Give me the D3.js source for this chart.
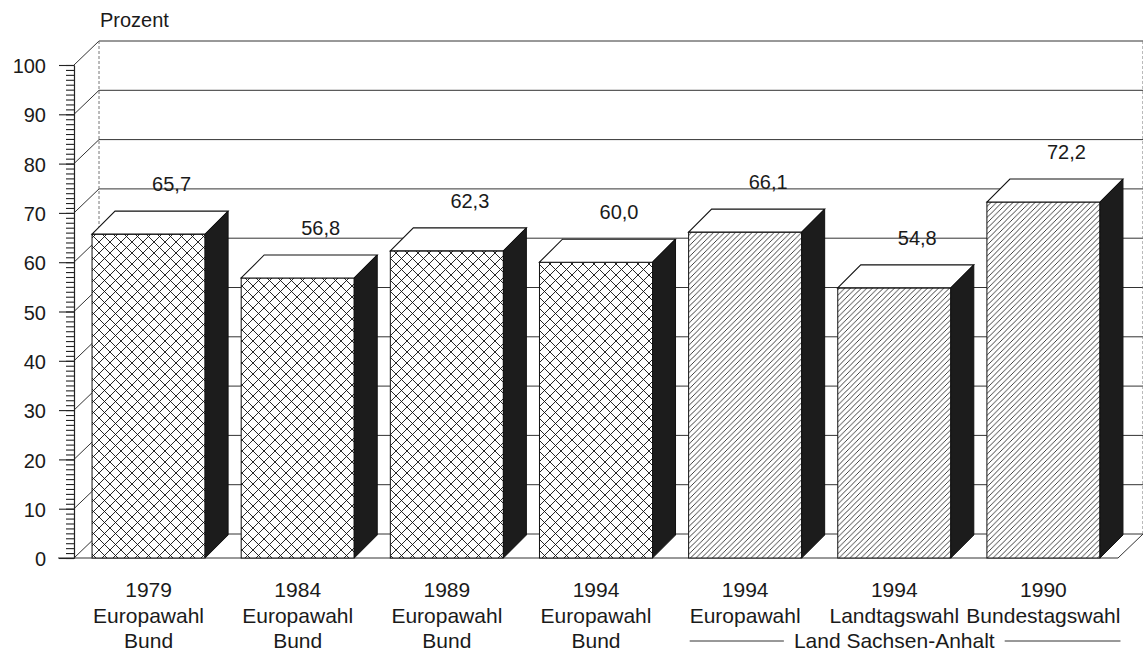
<!DOCTYPE html>
<html lang="de">
<head>
<meta charset="UTF-8">
<title>Wahlbeteiligung</title>
<script src="https://cdn.jsdelivr.net/npm/d3@7"></script>
<style>
    body { margin: 0; background: #fff; }
    svg text { font-family: "Liberation Sans", Arial, sans-serif; fill: #1a1a1a; }
    .axis path, .axis line { fill: none; stroke: #222; stroke-width: 1.1; }
    .axis text { font-size: 20px; }
</style>
</head>
<body>
<script>
// values
const years = ["1979", "1984", "1989", "1994", "1994", "1994", "1990"];
const elections = ["Europawahl", "Europawahl", "Europawahl", "Europawahl", "Europawahl", "Landtagswahl", "Bundestagswahl"];
const regions = ["Bund", "Bund", "Bund", "Bund", "Land Sachsen-Anhalt", "Land Sachsen-Anhalt", "Land Sachsen-Anhalt"];
const turnout = [65.7, 56.8, 62.3, 60.0, 66.1, 54.8, 72.2];
const yTicks = [0, 10, 20, 30, 40, 50, 60, 70, 80, 90, 100];
const groupedRegions = ["Land Sachsen-Anhalt"];

const w = 1143, h = 664;
const svg = d3.select("body").append("svg").attr("width", w).attr("height", h);

// depth offsets for the 3d look
const wallDx = 25, wallDy = 24;
const barDx = 23, barDy = 23;

const xScale = d3.scaleBand()
    .domain(d3.range(turnout.length))
    .range([74, 1118])
    .paddingInner(0.242)
    .paddingOuter(0.121);
const yScale = d3.scaleLinear().domain([0, 100]).range([558, 65]);

const fmt = d3.formatLocale({ decimal: ",", thousands: ".", grouping: [3], currency: ["", " €"] }).format(".1f");

// hatch patterns
const defs = svg.append("defs");
const cross = defs.append("pattern").attr("id", "cross")
    .attr("patternUnits", "userSpaceOnUse").attr("width", 11).attr("height", 11);
cross.append("rect").attr("width", 11).attr("height", 11).attr("fill", "#fff");
cross.append("path").attr("d", "M0,0L11,11M0,11L11,0")
    .attr("stroke", "#111").attr("stroke-width", 0.9);
const diag = defs.append("pattern").attr("id", "diag")
    .attr("patternUnits", "userSpaceOnUse").attr("width", 5.5).attr("height", 5.5);
diag.append("rect").attr("width", 5.5).attr("height", 5.5).attr("fill", "#fff");
diag.append("path").attr("d", "M-1,1L1,-1M0,5.5L5.5,0M4.5,6.5L6.5,4.5")
    .attr("stroke", "#111").attr("stroke-width", 0.8);

const x0 = xScale.range()[0], x1 = xScale.range()[1];
const grid = svg.append("g").attr("stroke", "#333").attr("stroke-width", 1).attr("fill", "none");

// back wall lines
grid.selectAll(".back").data(yTicks).enter().append("line")
    .attr("x1", x0 + wallDx).attr("x2", x1 + wallDx)
    .attr("y1", d => yScale(d) - wallDy).attr("y2", d => yScale(d) - wallDy);
// left wall diagonals
grid.selectAll(".side").data(yTicks).enter().append("line")
    .attr("x1", x0).attr("x2", x0 + wallDx)
    .attr("y1", d => yScale(d)).attr("y2", d => yScale(d) - wallDy);
// wall edges
[x0 + wallDx, x1 + wallDx].forEach(xx => {
    grid.append("line")
        .attr("x1", xx).attr("x2", xx)
        .attr("y1", yScale(100) - wallDy).attr("y2", yScale(0) - wallDy)
        .attr("stroke", "#777").attr("stroke-dasharray", "3,2");
});
// floor front edge and right corner
grid.append("line").attr("x1", 58).attr("x2", x1)
    .attr("y1", yScale(0)).attr("y2", yScale(0));
grid.append("line").attr("x1", x1).attr("x2", x1 + wallDx)
    .attr("y1", yScale(0)).attr("y2", yScale(0) - wallDy);

// bars
const bars = svg.selectAll(".bar").data(turnout).enter().append("g").attr("class", "bar");
bars.append("rect")
    .attr("x", (d, i) => xScale(i))
    .attr("y", d => yScale(d))
    .attr("width", xScale.bandwidth())
    .attr("height", d => yScale(0) - yScale(d))
    .attr("fill", (d, i) => regions[i] === "Bund" ? "url(#cross)" : "url(#diag)")
    .attr("stroke", "#111").attr("stroke-width", 1);
bars.append("path")
    .attr("d", (d, i) => {
        let l = xScale(i), r = l + xScale.bandwidth(), t = yScale(d);
        return `M${l},${t}L${l + barDx},${t - barDy}L${r + barDx},${t - barDy}L${r},${t}Z`;
    })
    .attr("fill", "#fff").attr("stroke", "#111").attr("stroke-width", 1.1);
bars.append("path")
    .attr("d", (d, i) => {
        let r = xScale(i) + xScale.bandwidth(), t = yScale(d), b = yScale(0);
        return `M${r},${t}L${r + barDx},${t - barDy}L${r + barDx},${b - barDy}L${r},${b}Z`;
    })
    .attr("fill", "#1c1c1c").attr("stroke", "#111").attr("stroke-width", 1);

// value labels
svg.selectAll(".val").data(turnout).enter().append("text")
    .attr("x", (d, i) => xScale(i) + xScale.bandwidth() / 2 + barDx)
    .attr("y", d => yScale(d) - barDy - 20)
    .attr("text-anchor", "middle")
    .attr("font-size", 20)
    .text(d => fmt(d));

// y axis with minor ticks
svg.append("g").attr("class", "axis")
    .attr("transform", `translate(${x0},0)`)
    .call(d3.axisLeft(yScale).ticks(100).tickSize(8).tickSizeOuter(0).tickFormat(""));
const yAxis = d3.axisLeft(yScale).tickValues(yTicks).tickSize(15).tickSizeOuter(0).tickPadding(13);
svg.append("g").attr("class", "axis")
    .attr("transform", `translate(${x0},0)`)
    .call(yAxis)
    .call(g => g.selectAll("text").attr("dy", "0.38em"));

svg.append("text").attr("x", 100).attr("y", 27).attr("font-size", 20).text("Prozent");

// category labels
const cx = i => xScale(i) + xScale.bandwidth() / 2;
svg.selectAll(".year").data(years).enter().append("text")
    .attr("x", (d, i) => cx(i)).attr("y", 597)
    .attr("text-anchor", "middle").attr("font-size", 21).text(d => d);
const elLabels = svg.selectAll(".el").data(elections).enter().append("text")
    .attr("x", (d, i) => cx(i)).attr("y", 623)
    .attr("text-anchor", "middle").attr("font-size", 21).text(d => d);
svg.selectAll(".reg").data(regions.map((r, i) => ({ r, i })).filter(d => !groupedRegions.includes(d.r)))
    .enter().append("text")
    .attr("x", d => cx(d.i)).attr("y", 648)
    .attr("text-anchor", "middle").attr("font-size", 21).text(d => d.r);

// spanning label for grouped region
groupedRegions.forEach(name => {
    const idx = regions.map((r, i) => r === name ? i : -1).filter(i => i >= 0);
    const first = idx[0], last = idx[idx.length - 1];
    const nodes = elLabels.nodes();
    const left = cx(first) - nodes[first].getComputedTextLength() / 2;
    const right = cx(last) + nodes[last].getComputedTextLength() / 2;
    const mid = (cx(first) + cx(last)) / 2;
    const t = svg.append("text").attr("x", mid).attr("y", 648)
        .attr("text-anchor", "middle").attr("font-size", 21).text(name);
    const tw = t.node().getComputedTextLength();
    svg.append("line").attr("x1", left).attr("x2", mid - tw / 2 - 10)
        .attr("y1", 641).attr("y2", 641).attr("stroke", "#333");
    svg.append("line").attr("x1", mid + tw / 2 + 10).attr("x2", right)
        .attr("y1", 641).attr("y2", 641).attr("stroke", "#333");
});
</script>
</body>
</html>
